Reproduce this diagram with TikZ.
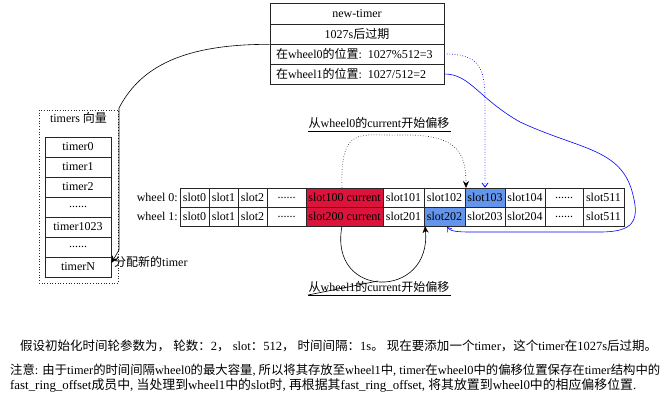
\documentclass[tikz,border=0pt]{standalone}
\usepackage{fontspec}
\setmainfont{Liberation Serif}
\newfontfamily\cjkfont{Noto Sans CJK SC}
\usetikzlibrary{arrows.meta}
\newcommand\zh[1]{{\cjkfont #1}}
\definecolor{curred}{RGB}{220,20,60}
\definecolor{hitblue}{RGB}{100,149,237}
\begin{document}
\begin{tikzpicture}[x=1pt,y=-1pt,
  cell/.style={draw=black!85, line width=0.7pt, minimum height=19pt, inner sep=0pt,
    font=\fontsize{12}{14}\selectfont, anchor=center},
  txt/.style={inner sep=0pt, font=\fontsize{12}{14}\selectfont},
  blk/.style={line width=0.6pt, black},
  bluel/.style={line width=0.6pt, blue},
  tipb/.style={-{Stealth[length=7pt,width=6pt]}},
  tipv/.style={-{Straight Barb[length=4pt,width=6pt]}}
]
\useasboundingbox (0,0) rectangle (672,401);

% new-timer record
\node[cell, minimum width=174pt, minimum height=21pt] (nt1) at (357,13.5) {new-timer};
\node[cell, minimum width=174pt, minimum height=20pt] (nt2) at (357,34) {1027s\zh{后过期}};
\node[cell, minimum width=174pt, minimum height=20pt, text width=162pt, align=left] (nt3) at (357,54) {\zh{在}wheel0\zh{的位置}: 1027\%512=3};
\node[cell, minimum width=174pt, minimum height=20pt, text width=162pt, align=left] (nt4) at (357,74) {\zh{在}wheel1\zh{的位置}: 1027/512=2};

% timers vector cluster
\draw[dotted, line width=0.7pt, black!85] (39,110) rectangle (118.5,283);
\node[txt] (vlabel) at (78.5,118) {timers \zh{向量}};
\node[cell, minimum width=66pt, minimum height=20pt] (t0) at (78,147) {timer0};
\node[cell, minimum width=66pt, minimum height=20pt] (t1) at (78,167) {timer1};
\node[cell, minimum width=66pt, minimum height=20pt] (t2) at (78,187) {timer2};
\node[cell, minimum width=66pt, minimum height=20pt] (t3) at (78,207) {......};
\node[cell, minimum width=66pt, minimum height=20pt] (t4) at (78,227) {timer1023};
\node[cell, minimum width=66pt, minimum height=20pt] (t5) at (78,247) {......};
\node[cell, minimum width=66pt, minimum height=20pt] (tN) at (78,267) {timerN};

% wheel labels
\node[txt, anchor=east] (wl0) at (178,197.5) {wheel 0:};
\node[txt, anchor=east] (wl1) at (178,216.5) {wheel 1:};

% wheel 0
\node[cell, minimum width=29pt] (a0) at (194.5,197.5) {slot0};
\node[cell, minimum width=29pt] (a1) at (223.5,197.5) {slot1};
\node[cell, minimum width=29pt] (a2) at (252.5,197.5) {slot2};
\node[cell, minimum width=39pt] (a3) at (286.5,197.5) {......};
\node[cell, minimum width=77pt, fill=curred] (a100) at (344.5,197.5) {slot100 current};
\node[cell, minimum width=41pt] (a101) at (403.5,197.5) {slot101};
\node[cell, minimum width=41pt] (a102) at (444.5,197.5) {slot102};
\node[cell, minimum width=40pt, fill=hitblue] (a103) at (485,197.5) {slot103};
\node[cell, minimum width=40pt] (a104) at (525,197.5) {slot104};
\node[cell, minimum width=38pt] (a105) at (564,197.5) {......};
\node[cell, minimum width=41pt] (a511) at (603.5,197.5) {slot511};

% wheel 1
\node[cell, minimum width=29pt] (b0) at (194.5,216.5) {slot0};
\node[cell, minimum width=29pt] (b1) at (223.5,216.5) {slot1};
\node[cell, minimum width=29pt] (b2) at (252.5,216.5) {slot2};
\node[cell, minimum width=39pt] (b3) at (286.5,216.5) {......};
\node[cell, minimum width=77pt, fill=curred] (b200) at (344.5,216.5) {slot200 current};
\node[cell, minimum width=41pt] (b201) at (403.5,216.5) {slot201};
\node[cell, minimum width=41pt, fill=hitblue] (b202) at (444.5,216.5) {slot202};
\node[cell, minimum width=40pt] (b203) at (485,216.5) {slot203};
\node[cell, minimum width=40pt] (b204) at (525,216.5) {slot204};
\node[cell, minimum width=38pt] (b205) at (564,216.5) {......};
\node[cell, minimum width=41pt] (b511) at (603.5,216.5) {slot511};

% edge: new-timer -> timerN
\draw[blk, tipb] (nt2.south west) .. controls (175,44) and (138,72) .. (119,108)
  -- (119,250) -- (tN.east |- 0,263);
\node[txt, anchor=west] (alloc) at (114,262) {\zh{分配新的}timer};

% dotted: wheel0 current offset
\coordinate (a100top) at (342,188);
\coordinate (a102ne) at (466,188);
\draw[blk, dotted, tipb] (a100top) .. controls (340,125) and (360,136) .. (400,135)
  .. controls (455,134) and (466,150) .. (a102ne);
\node[txt] (lab0) at (379,123) {\zh{从}wheel0\zh{的}current\zh{开始偏移}};
\draw[line width=0.6pt] (308,131) -- (451,131);

% solid: wheel1 current offset
\coordinate (b200bot) at (342,226);
\coordinate (b202sw) at (425,226);
\draw[blk, tipb] (b200bot) .. controls (328,300) and (432,300) .. (b202sw);
\node[txt] (lab1) at (379,287) {\zh{从}wheel1\zh{的}current\zh{开始偏移}};
\draw[line width=0.6pt] (308,295) -- (451,295);
\draw[line width=0.6pt] (308,295) -- (378,281);

% blue dotted: position in wheel0
\draw[bluel, dotted, line width=0.8pt, tipv] (nt3.east) .. controls (478,54) and (485,66) .. (485,100) -- (a103.north);

% blue solid: position in wheel1
\coordinate (b202s) at (447,227);
\draw[bluel, tipv] (nt4.east) .. controls (470,74) and (478,98) .. (520,122)
  .. controls (580,150) and (622,148) .. (633,195)
  .. controls (640,222) and (632,232) .. (600,232)
  -- (470,232) .. controls (456,232) and (450,231) .. (b202s);

% bottom notes
\node[inner sep=0pt, anchor=west] (note1) at (20,346) {\resizebox{637pt}{!}{\zh{假设初始化时间轮参数为，} \zh{轮数：}2\zh{，} slot\zh{：}512\zh{，} \zh{时间间隔：}1s\zh{。} \zh{现在要添加一个}timer\zh{，这个}timer\zh{在}1027s\zh{后过期。}}};
\node[inner sep=0pt, anchor=west] (note2) at (10,370) {\resizebox{650pt}{!}{\zh{注意}: \zh{由于}timer\zh{的时间间隔}wheel0\zh{的最大容量}, \zh{所以将其存放至}wheel1\zh{中}, timer\zh{在}wheel0\zh{中的偏移位置保存在}timer\zh{结构中的}}};
\node[inner sep=0pt, anchor=west] (note3) at (10,385) {\resizebox{626pt}{!}{fast\_ring\_offset\zh{成员中}, \zh{当处理到}wheel1\zh{中的}slot\zh{时}, \zh{再根据其}fast\_ring\_offset, \zh{将其放置到}wheel0\zh{中的相应偏移位置}.}};
\end{tikzpicture}
\end{document}
